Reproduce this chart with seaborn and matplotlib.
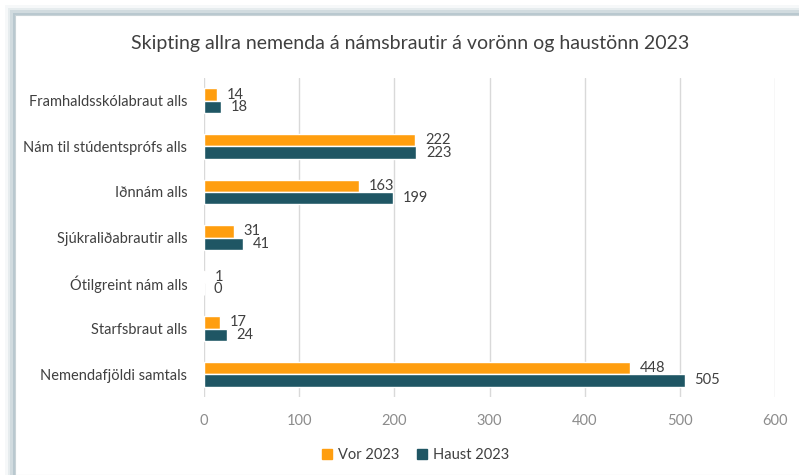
import numpy as np
import pandas as pd
import matplotlib.pyplot as plt
import matplotlib.patches as patches
import seaborn as sns

categories = ["Framhaldsskólabraut alls", "Nám til stúdentsprófs alls", "Iðnnám alls",
              "Sjúkraliðabrautir alls", "Ótilgreint nám alls", "Starfsbraut alls",
              "Nemendafjöldi samtals"]
vor = [14, 222, 163, 31, 1, 17, 448]
haust = [18, 223, 199, 41, 0, 24, 505]
seasons = ["Vor 2023", "Haust 2023"]
xticks = [0, 100, 200, 300, 400, 500, 600]

df = pd.DataFrame({
    "cat": categories * 2,
    "value": vor + haust,
    "season": [seasons[0]] * len(vor) + [seasons[1]] * len(haust),
})

sns.set_theme(style="white")
plt.rcParams["font.family"] = ["Lato", "DejaVu Sans"]

fig = plt.figure(figsize=(7.99, 4.75), dpi=100)
fig.patch.set_facecolor("white")

# frame with soft shadow on left and top
for i, a in enumerate([0.08, 0.15, 0.24, 0.36]):
    off = (4 - i) * 2.5
    fig.patches.append(patches.Rectangle(((15 - off) / 799, 0), 1, (460 + off) / 475,
                                         transform=fig.transFigure, facecolor="#8fa9b3",
                                         alpha=a, edgecolor="none", zorder=0))
fig.patches.append(patches.Rectangle((15 / 799, 0), 1, 460 / 475, transform=fig.transFigure,
                                     facecolor="white", edgecolor="#c9d3d7", lw=0.8, zorder=1))

ax = fig.add_axes([204 / 799, 1 - 397 / 475, 571 / 799, 319 / 475])
ax.set_zorder(2)
ax.patch.set_alpha(0)

sns.barplot(data=df, x="value", y="cat", hue="season", orient="h", ax=ax,
            palette=["#FF9E0F", "#1F5664"], width=0.54, saturation=1, zorder=3)

for c in ax.containers:
    ax.bar_label(c, padding=7, fontsize=10.5, color="#404040")

ax.set_xlim(0, 600)
ax.set_ylim(6.5, -0.5)
ax.set_xticks(xticks)
ax.set_xticklabels([str(t) for t in xticks])
ax.grid(axis="x", color="#d9d9d9", lw=1)
ax.set_axisbelow(True)
for s in ax.spines.values():
    s.set_visible(False)
ax.tick_params(axis="x", colors="#8c8c8c", labelsize=10.5, length=0, pad=12)
ax.tick_params(axis="y", colors="#404040", labelsize=10.5, length=0, pad=12)
ax.set_xlabel("")
ax.set_ylabel("")

ax.legend_.remove()
handles = [patches.Patch(color="#FF9E0F"), patches.Patch(color="#1F5664")]
fig.legend(handles, seasons, loc="center", bbox_to_anchor=(0.52, 1 - 455 / 475), ncol=2,
           frameon=False, fontsize=10.5, handlelength=0.7, handleheight=0.7,
           handletextpad=0.4, columnspacing=1.2, labelcolor="#404040")

fig.text(410 / 799, 1 - 44 / 475, "Skipting allra nemenda á námsbrautir á vorönn og haustönn 2023",
         ha="center", va="center", fontsize=14, color="#404040")

fig.savefig("out.png", dpi=100)
